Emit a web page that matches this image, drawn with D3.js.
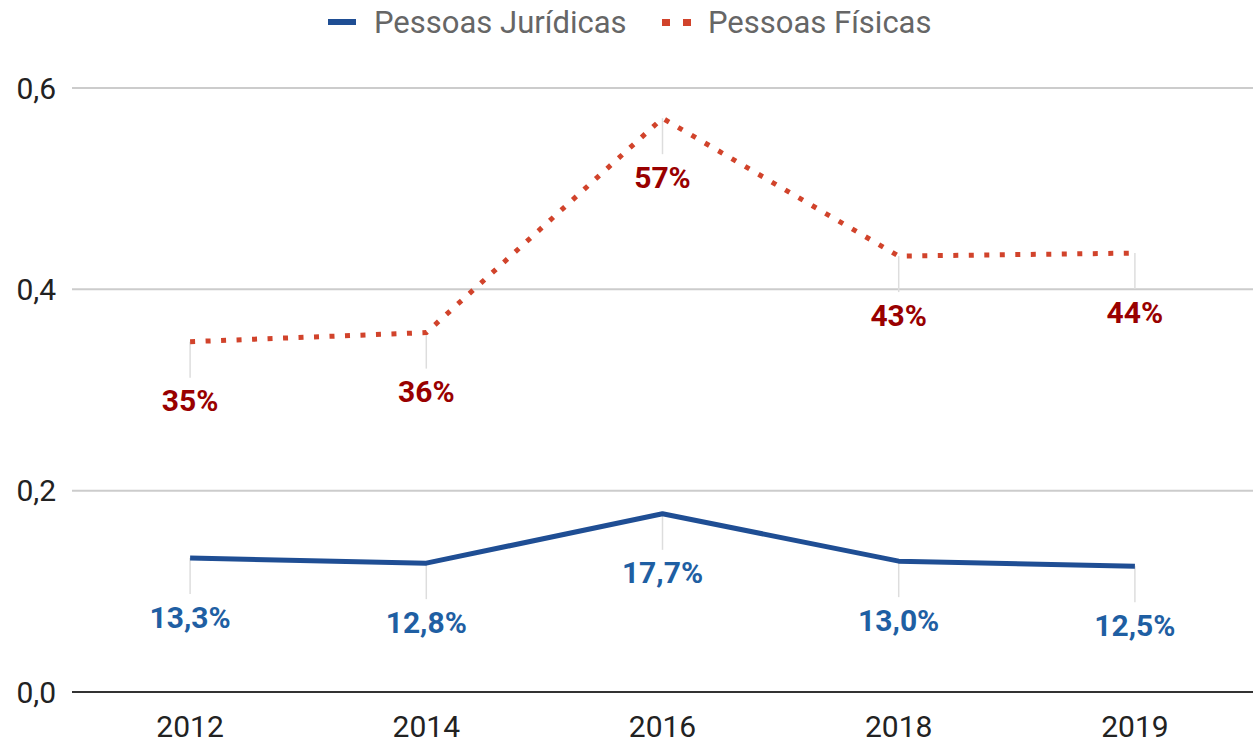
<!DOCTYPE html>
<html>
<head>
<meta charset="utf-8">
<script src="https://cdn.jsdelivr.net/npm/d3@7"></script>
<style>
  body { margin: 0; background: #fff; }
  text { font-family: Roboto, "Noto Sans", sans-serif; }
</style>
</head>
<body>
<div id="chart"></div>
<script>
// data
const years = ["2012", "2014", "2016", "2018", "2019"];
const juridicas = [0.133, 0.128, 0.177, 0.130, 0.125];
const fisicas = [0.348, 0.357, 0.570, 0.433, 0.436];
const juridicasLabels = ["13,3%", "12,8%", "17,7%", "13,0%", "12,5%"];
const fisicasLabels = ["35%", "36%", "57%", "43%", "44%"];
const yTicks = [0, 0.2, 0.4, 0.6];

const W = 1253, H = 742;
const plotLeft = 72, plotRight = 1253, plotTop = 88, plotBottom = 692;

const svg = d3.select("#chart")
    .append("svg")
    .attr("width", W)
    .attr("height", H);

const x = d3.scalePoint()
    .domain(years)
    .range([plotLeft, plotRight])
    .padding(0.5);

const y = d3.scaleLinear()
    .domain([0, 0.6])
    .range([plotBottom, plotTop]);

const fmt = d => d3.format(".1f")(d).replace(".", ",");

// gridlines + y labels
svg.append("g")
    .selectAll("line")
    .data(yTicks)
    .enter().append("line")
    .attr("x1", plotLeft)
    .attr("x2", plotRight)
    .attr("y1", d => y(d))
    .attr("y2", d => y(d))
    .attr("stroke", d => d === 0 ? "#333" : "#ccc")
    .attr("stroke-width", 2);

svg.append("g")
    .selectAll("text")
    .data(yTicks)
    .enter().append("text")
    .attr("x", 56)
    .attr("y", d => y(d))
    .attr("dy", "0.35em")
    .attr("text-anchor", "end")
    .attr("font-size", 30)
    .attr("fill", "#222")
    .text(fmt);

// x labels
svg.append("g")
    .selectAll("text")
    .data(years)
    .enter().append("text")
    .attr("x", d => x(d))
    .attr("y", 726)
    .attr("dy", "0.35em")
    .attr("text-anchor", "middle")
    .attr("font-size", 30)
    .attr("fill", "#222")
    .text(d => d);

function series(values, labels, lineColor, labelColor, dash) {
    const pts = years.map((yr, i) => [x(yr), y(values[i])]);

    // leader lines
    svg.append("g")
        .selectAll("line")
        .data(pts)
        .enter().append("line")
        .attr("x1", d => d[0])
        .attr("x2", d => d[0])
        .attr("y1", d => d[1])
        .attr("y2", d => d[1] + 36)
        .attr("stroke", "#ddd")
        .attr("stroke-width", 1.5);

    svg.append("path")
        .datum(pts)
        .attr("d", d3.line())
        .attr("fill", "none")
        .attr("stroke", lineColor)
        .attr("stroke-width", 5)
        .attr("stroke-linejoin", "round")
        .attr("stroke-dasharray", dash);

    svg.append("g")
        .selectAll("text")
        .data(pts)
        .enter().append("text")
        .attr("x", d => d[0])
        .attr("y", d => d[1] + 59)
        .attr("dy", "0.35em")
        .attr("text-anchor", "middle")
        .attr("font-size", 30)
        .attr("font-weight", "bold")
        .attr("fill", labelColor)
        .text((d, i) => labels[i]);
}

series(juridicas, juridicasLabels, "#1f4e94", "#1f5fa3", null);
series(fisicas, fisicasLabels, "#d1432b", "#990000", "5,10.5");

// legend
const legend = svg.append("g");
legend.append("rect")
    .attr("x", 328).attr("y", 19).attr("width", 28).attr("height", 6)
    .attr("fill", "#1f4e94");
legend.append("text")
    .attr("x", 374).attr("y", 22).attr("dy", "0.35em")
    .attr("font-size", 31).attr("fill", "#666")
    .text("Pessoas Jurídicas");
legend.append("rect")
    .attr("x", 662).attr("y", 19).attr("width", 8).attr("height", 7)
    .attr("fill", "#d1432b");
legend.append("rect")
    .attr("x", 683).attr("y", 19).attr("width", 8).attr("height", 7)
    .attr("fill", "#d1432b");
legend.append("text")
    .attr("x", 708).attr("y", 22).attr("dy", "0.35em")
    .attr("font-size", 31).attr("fill", "#666")
    .text("Pessoas Físicas");
</script>
</body>
</html>
